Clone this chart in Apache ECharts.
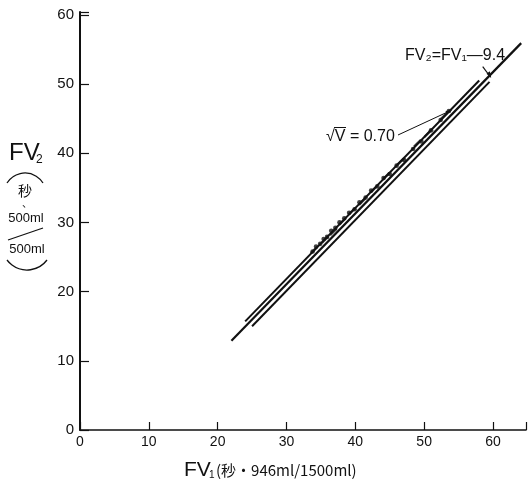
<!DOCTYPE html>
<html><head><meta charset="utf-8">
<script src="https://cdn.jsdelivr.net/npm/echarts@6/dist/echarts.min.js"></script>
<style>html,body{margin:0;padding:0;background:#fff}#c{width:529px;height:486px}</style>
</head><body><div id="c"></div>
<script>
// axis ranges / ticks
const xTicks = [0, 10, 20, 30, 40, 50, 60];
const yTicks = [0, 10, 20, 30, 40, 50, 60];
const xMax = 64.8, yMax = 60.4;

// regression line FV2 = FV1 - 9.4 (as drawn)
const mainX = [22.0, 64.1];
const mainY = [12.9, 55.9];
// parallel limit lines
const upperX = [24.0, 58.0];
const upperY = [15.7, 50.5];
const lowerX = [25.0, 59.5];
const lowerY = [15.0, 50.3];

// observed points (dots)
const dotX = [33.8, 34.3, 34.9, 35.4, 35.9, 36.5, 37.1, 37.7, 38.4, 39.1, 39.9, 40.6, 41.5, 42.3, 43.2, 44.1, 45.0, 46.0, 47.1, 48.4, 49.6, 51.0, 52.4, 53.6];
const dotY = [25.8, 26.5, 26.9, 27.6, 27.9, 28.8, 29.2, 30.0, 30.6, 31.4, 31.9, 32.9, 33.6, 34.6, 35.2, 36.4, 37.0, 38.2, 39.0, 40.6, 41.7, 43.3, 44.8, 46.1];
// observed points (dash marks)
const dashX = [34.0, 35.6, 36.8, 38.1, 39.5, 41.0, 42.7, 44.5, 46.6, 49.0, 50.5, 52.9];
const dashY = [26.0, 27.5, 28.6, 30.1, 31.6, 33.0, 34.8, 36.7, 38.8, 41.4, 42.8, 45.4];

const zip = (a, b) => a.map((v, i) => [v, b[i]]);
const ink = '#111';
const numFont = '"Liberation Sans", "DejaVu Sans", sans-serif';
const jpFont = '"Noto Sans CJK JP", sans-serif';

const chart = echarts.init(document.getElementById('c'), null, {renderer: 'canvas'});
chart.setOption({
  animation: false,
  backgroundColor: '#fff',
  grid: {left: 80, top: 12, width: 449, height: 418},
  xAxis: {
    type: 'value', min: xTicks[0], max: xMax, interval: xTicks[1] - xTicks[0],
    axisLine: {lineStyle: {color: ink, width: 1.6}},
    axisTick: {inside: true, length: 8, lineStyle: {color: ink, width: 1.2}},
    axisLabel: {color: ink, fontSize: 14, fontFamily: numFont, margin: 5,
      formatter: v => xTicks.includes(v) ? String(v) : ''},
    splitLine: {show: false}
  },
  yAxis: {
    type: 'value', min: yTicks[0], max: yMax, interval: yTicks[1] - yTicks[0],
    axisLine: {lineStyle: {color: ink, width: 2}},
    axisTick: {inside: true, length: 9, lineStyle: {color: ink, width: 1.2}},
    axisLabel: {color: ink, fontSize: 15, fontFamily: numFont, margin: 6,
      formatter: v => yTicks.includes(v) ? String(v) : ''},
    splitLine: {show: false}
  },
  series: [
    {type: 'line', data: zip(mainX, mainY), symbol: 'none', lineStyle: {color: ink, width: 2.2}},
    {type: 'line', data: zip(upperX, upperY), symbol: 'none', lineStyle: {color: ink, width: 2}},
    {type: 'line', data: zip(lowerX, lowerY), symbol: 'none', lineStyle: {color: ink, width: 2}},
    {type: 'scatter', data: zip(dotX, dotY), symbol: 'circle', symbolSize: 4.6, itemStyle: {color: ink}},
    {type: 'scatter', data: zip(dashX, dashY), symbol: 'rect', symbolSize: [9, 2.4], symbolRotate: 45, itemStyle: {color: ink}}
  ],
  graphic: [
    // y-axis title
    {type: 'text', style: {text: 'FV', x: 9, y: 153, font: '24px ' + numFont, fill: ink, verticalAlign: 'middle', textVerticalAlign: 'middle'}},
    {type: 'text', style: {text: '2', x: 36, y: 160, font: '12px ' + numFont, fill: ink, verticalAlign: 'middle', textVerticalAlign: 'middle'}},
    {type: 'arc', shape: {cx: 25, cy: 194.2, r: 21.2, startAngle: -2.585, endAngle: -0.557, clockwise: true}, style: {stroke: ink, lineWidth: 1.3, fill: null}},
    {type: 'text', style: {text: '秒', x: 25, y: 191, font: '14px ' + jpFont, fill: ink, align: 'center', textAlign: 'center', verticalAlign: 'middle', textVerticalAlign: 'middle'}},
    {type: 'text', style: {text: '、', x: 27, y: 203, font: '10px ' + jpFont, fill: ink, align: 'center', textAlign: 'center', verticalAlign: 'middle', textVerticalAlign: 'middle'}},
    {type: 'text', style: {text: '500ml', x: 26, y: 218, font: '13px ' + numFont, fill: ink, align: 'center', textAlign: 'center', verticalAlign: 'middle', textVerticalAlign: 'middle'}},
    {type: 'line', shape: {x1: 8, y1: 240, x2: 43, y2: 228}, style: {stroke: ink, lineWidth: 1.2}},
    {type: 'text', style: {text: '500ml', x: 27, y: 249, font: '13px ' + numFont, fill: ink, align: 'center', textAlign: 'center', verticalAlign: 'middle', textVerticalAlign: 'middle'}},
    {type: 'arc', shape: {cx: 27, cy: 245, r: 25, startAngle: 0.6435, endAngle: 2.498, clockwise: true}, style: {stroke: ink, lineWidth: 1.3, fill: null}},
    // x-axis title
    {type: 'text', style: {text: 'FV', x: 184, y: 470, font: '21px ' + numFont, fill: ink, verticalAlign: 'middle', textVerticalAlign: 'middle'}},
    {type: 'text', style: {text: '1', x: 209, y: 475, font: '10px ' + numFont, fill: ink, verticalAlign: 'middle', textVerticalAlign: 'middle'}},
    {type: 'text', style: {text: '(秒・946ml/1500ml)', x: 216, y: 470, font: '15px ' + jpFont, fill: ink, verticalAlign: 'middle', textVerticalAlign: 'middle'}},
    // annotation: regression
    {type: 'text', style: {text: 'FV₂=FV₁—9.4', x: 405, y: 56, font: '16px ' + numFont, fill: ink, verticalAlign: 'middle', textVerticalAlign: 'middle'}},
    {type: 'line', shape: {x1: 482.7, y1: 66.7, x2: 490.5, y2: 77}, style: {stroke: ink, lineWidth: 1.2}},
    {type: 'polygon', shape: {points: [[491.2, 78], [486.5, 73.8], [489.8, 71.3]]}, style: {fill: ink}},
    // annotation: sqrt V
    {type: 'text', style: {text: '√V = 0.70', x: 326, y: 137, font: '16px ' + numFont, fill: ink, verticalAlign: 'middle', textVerticalAlign: 'middle'}},
    {type: 'line', shape: {x1: 334, y1: 127.5, x2: 346, y2: 127.5}, style: {stroke: ink, lineWidth: 1}},
    {type: 'line', shape: {x1: 398, y1: 135, x2: 451.5, y2: 110.2}, style: {stroke: ink, lineWidth: 1}},
    {type: 'polygon', shape: {points: [[452, 110], [445.5, 111], [447, 114.3]]}, style: {fill: ink}}
  ]
});
</script></body></html>
